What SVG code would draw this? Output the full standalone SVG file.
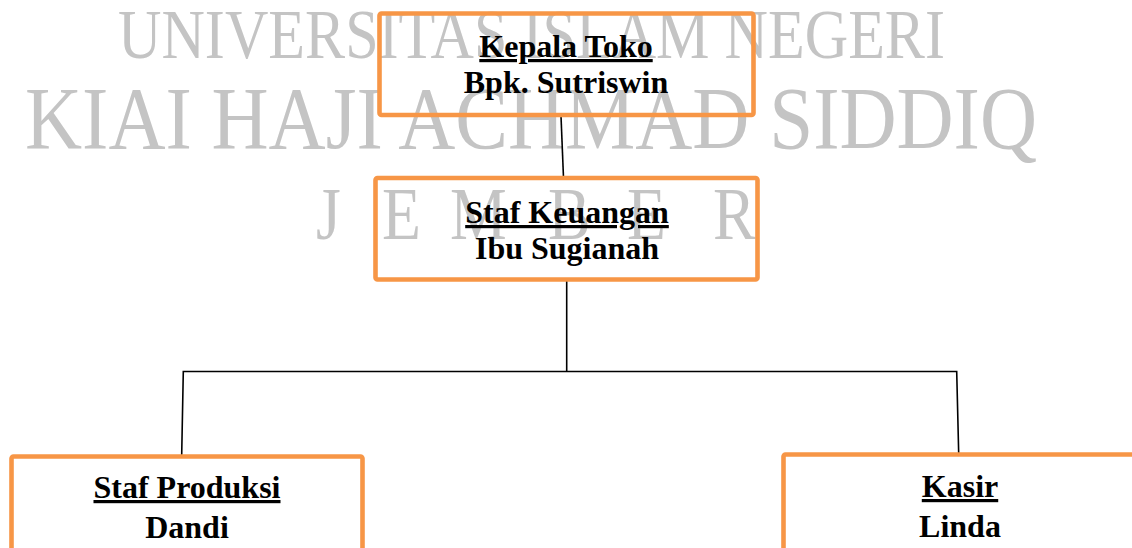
<svg xmlns="http://www.w3.org/2000/svg" width="1132" height="548" viewBox="0 0 1132 548">
<style>
.wm{font-family:"Liberation Serif","Times New Roman",serif;fill:#c4c4c4;}
.box{fill:none;stroke:#f79646;stroke-width:4.6;stroke-linejoin:round;}
.t{font-family:"Liberation Serif","Times New Roman",serif;font-weight:bold;font-size:32px;fill:#000;text-anchor:middle;}
.u{text-decoration:underline;}
.c{stroke:#000;stroke-width:1.6;fill:none;}
</style>
<rect width="1132" height="548" fill="#fff"/>
<g id="watermark">
<text class="wm" x="118" y="58" font-size="69" textLength="827" lengthAdjust="spacingAndGlyphs">UNIVERSITAS ISLAM NEGERI</text>
<text class="wm" x="25" y="148" font-size="88" textLength="1012" lengthAdjust="spacingAndGlyphs">KIAI HAJI ACHMAD SIDDIQ</text>
<g transform="scale(0.85 1)"><text class="wm" y="239" font-size="75" x="371.8 449.4 529.4 644.7 737.6 838.8">JEMBER</text></g>
</g>
<g id="connectors">
<line class="c" x1="561" y1="116" x2="563.5" y2="178"/>
<line class="c" x1="566.7" y1="280" x2="566.7" y2="371.5"/>
<polyline class="c" points="181.7,455 183.3,371.5 956.7,371.5 958.7,454"/>
</g>
<g id="kepala">
<rect class="box" x="379.5" y="13.5" width="374" height="101.5" rx="2"/>
<text class="t u" x="566" y="57">Kepala Toko</text>
<text class="t" x="566" y="93">Bpk. Sutriswin</text>
</g>
<g id="keuangan">
<rect class="box" x="375.5" y="178" width="382" height="101.5" rx="2"/>
<text class="t u" x="567" y="223">Staf Keuangan</text>
<text class="t" x="567" y="259">Ibu Sugianah</text>
</g>
<g id="produksi">
<rect class="box" x="11.5" y="456.5" width="351" height="110" rx="2"/>
<text class="t u" x="187" y="498">Staf Produksi</text>
<text class="t" x="187" y="538">Dandi</text>
</g>
<g id="kasir">
<rect class="box" x="783.5" y="454.5" width="360" height="110" rx="2"/>
<text class="t u" x="960" y="497">Kasir</text>
<text class="t" x="960" y="537">Linda</text>
</g>
</svg>
